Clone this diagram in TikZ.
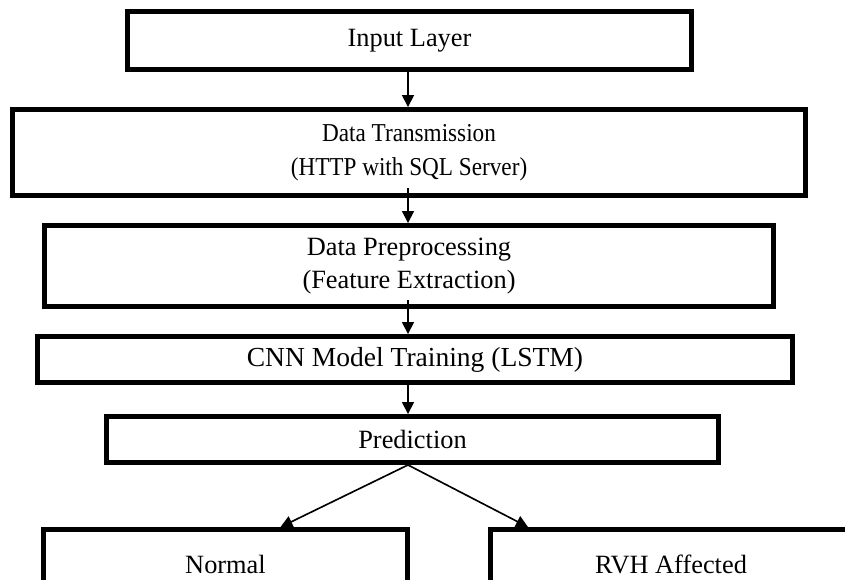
\documentclass[tikz,border=0pt]{standalone}
\usepackage{fontspec}
\setmainfont{Liberation Serif}
\newfontfamily\narrowserif[FakeStretch=0.9]{Liberation Serif}
\usetikzlibrary{arrows.meta, positioning}
\tikzstyle{layer} = [rectangle, draw=black, line width=4.2pt, text centered, align=center, inner sep=0pt, font=\fontsize{22.5}{28}\selectfont]
\tikzstyle{arrow} = [line width=1.4pt, -{Triangle[length=0.36cm, width=0.36cm]}]

\begin{document}
\begin{tikzpicture}[x=0.03cm, y=-0.03cm]
	\useasboundingbox (0,0) rectangle (845,579);
	\clip (0,0) rectangle (845,579);
	% Nodes
	\node (input) [layer, minimum width=16.92cm, minimum height=1.74cm] at (409.5,40.5) {Input Layer};
	\node (trans) [layer, minimum width=23.79cm, minimum height=2.58cm, font=\narrowserif\fontsize{22}{29}\selectfont] at (409,152.5) {Data Transmission\\(HTTP with SQL Server)};
	\node (prep) [layer, minimum width=21.87cm, minimum height=2.43cm] at (409,266) {Data Preprocessing\\(Feature Extraction)};
	\node (cnn) [layer, minimum width=22.65cm, minimum height=1.38cm, font=\fontsize{23.5}{28}\selectfont] at (415,359.5) {CNN Model Training (LSTM)};
	\node (pred) [layer, minimum width=18.36cm, minimum height=1.38cm] at (412.5,439.5) {Prediction};
	\node (normal) [layer, minimum width=10.92cm, minimum height=2.1cm] at (225.5,564.5) {Normal};
	\node (rvh) [layer, minimum width=10.83cm, minimum height=2.1cm] at (671,564.5) {RVH Affected};
	% Arrows
	\draw [arrow] (input.south -| 408,0) -- (trans.north -| 408,0);
	\draw [arrow] ([yshift=0.3cm]trans.south -| 408,0) -- (prep.north -| 408,0);
	\draw [arrow] ([yshift=0.27cm]prep.south -| 408,0) -- (cnn.north -| 408,0);
	\draw [arrow] (cnn.south -| 408,0) -- (pred.north -| 408,0);
	\draw [arrow] (pred.south -| 408,0) -- ([xshift=1.65cm]normal.north);
	\draw [arrow] (pred.south -| 408,0) -- ([xshift=-4.29cm]rvh.north);
\end{tikzpicture}
\end{document}
